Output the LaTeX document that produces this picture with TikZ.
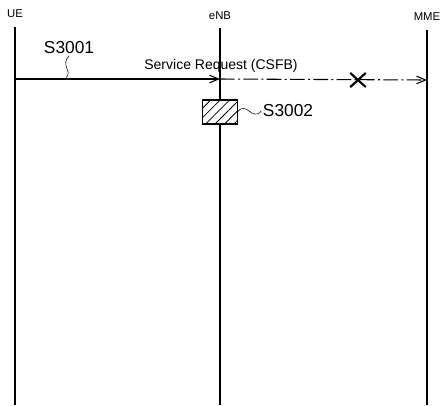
\documentclass[tikz,border=0pt]{standalone}
\usepackage{fontspec}
\setmainfont{Liberation Sans}
\usetikzlibrary{arrows.meta, positioning, patterns.meta, shapes.misc}

\begin{document}
\begin{tikzpicture}[
        x=0.75pt, y=-0.75pt,
        entity/.style={font=\fontsize{8.5}{10}\selectfont, inner sep=1pt},
        lifeline/.style={line width=1.1pt},
        msg/.style={-{Straight Barb[length=2.4mm, width=2mm]}, line width=0.8pt},
        lostmsg/.style={msg, dash pattern=on 11pt off 2.5pt on 1.5pt off 2.5pt},
        steplabel/.style={font=\fontsize{13}{15}\selectfont, inner sep=1pt},
        procbox/.style={
            draw,
            line width=0.9pt,
            preaction={fill=white},
            pattern={Lines[angle=45, distance=5pt, line width=0.6pt]},
            minimum width=26pt,
            minimum height=18pt,
            inner sep=0pt
        },
        lostmark/.style={cross out, draw, line width=1.6pt, minimum width=10pt, minimum height=9pt, inner sep=0pt}
    ]
        \useasboundingbox (0,0) rectangle (443,405);

        % entities
        \node[entity] (ue) at (15,14) {UE};
        \node[entity] (enb) at (220,16) {eNB};
        \node[entity] (mme) at (427,17) {MME};

        \coordinate (ue-top) at (15,27);
        \coordinate (ue-end) at (15,405);
        \coordinate (enb-top) at (220,28);
        \coordinate (enb-end) at (220,405);
        \coordinate (mme-top) at (427,30);
        \coordinate (mme-end) at (427,405);

        \draw[lifeline] (ue-top) -- (ue-end);
        \draw[lifeline] (enb-top) -- (enb-end);
        \draw[lifeline] (mme-top) -- (mme-end);

        % service request, lost towards the MME
        \coordinate (req-ue) at (15,79);
        \coordinate (req-enb) at (220,79);
        \coordinate (req-mme) at (427,80);
        \draw[msg] (req-ue) -- (req-enb);
        \draw[lostmsg] (req-enb) -- (req-mme);
        \node[entity, font=\fontsize{10.5}{12}\selectfont] (req) at (221,66) {Service Request (CSFB)};
        \node[lostmark] (lost) at (358,80) {};

        % step S3001
        \node[steplabel] (s3001) at (69,48) {S3001};
        \coordinate (s3001-tip) at (66,78);
        \draw (s3001.south) .. controls (60,66) and (73,70) .. (s3001-tip);

        % step S3002
        \node[procbox] (check) at (220,112) {};
        \node[steplabel] (s3002) at (288,111) {S3002};
        \draw (check.east) .. controls (246,100) and (252,122) .. (s3002.west);
    \end{tikzpicture}
\end{document}
